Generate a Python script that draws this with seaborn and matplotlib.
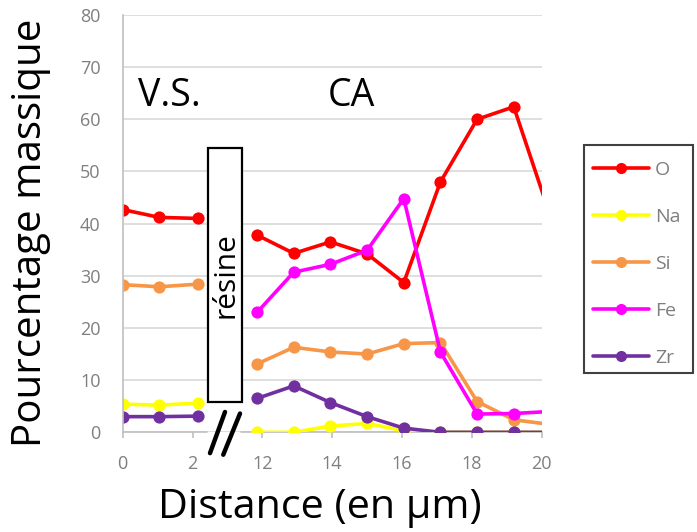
import numpy as np
import pandas as pd
import matplotlib
matplotlib.use("Agg")
import matplotlib.pyplot as plt
import matplotlib.patches as patches
from matplotlib.lines import Line2D
import seaborn as sns

# ---------------- data ----------------
elements = ["O", "Na", "Si", "Fe", "Zr"]
colors = ["#FF0000", "#FFFF00", "#F79646", "#FF00FF", "#7030A0"]

x_vs = [0.0, 1.05, 2.15]
x_ca = [11.85, 12.9, 13.95, 15.0, 16.05, 17.1, 18.15, 19.2, 20.25]

O_vs = [42.7, 41.2, 41.0]
O_ca = [37.8, 34.3, 36.5, 34.2, 28.7, 48.0, 60.0, 62.4, 41.4]
Na_vs = [5.4, 5.2, 5.6]
Na_ca = [0.0, 0.0, 1.2, 1.7, 0.3, 0.0, 0.0, 0.0, 0.0]
Si_vs = [28.3, 27.9, 28.4]
Si_ca = [13.1, 16.3, 15.4, 15.0, 17.0, 17.2, 5.9, 2.4, 1.5]
Fe_ca = [23.0, 30.7, 32.2, 34.9, 44.8, 15.4, 3.5, 3.6, 4.0]
Zr_vs = [3.0, 3.0, 3.1]
Zr_ca = [6.5, 8.9, 5.7, 3.0, 0.8, 0.0, 0.0, 0.0, 0.0]

xtick_labels = ["0", "2", "12", "14", "16", "18", "20"]
xtick_values = [0, 2, 12, 14, 16, 18, 20]
yticks = [0, 10, 20, 30, 40, 50, 60, 70, 80]

# axis break: the CA part is shifted left by this amount
SHIFT = 8.0
def pos(x):
    return x if x < 6 else x - SHIFT

series = {
    "O": (O_vs, O_ca),
    "Na": (Na_vs, Na_ca),
    "Si": (Si_vs, Si_ca),
    "Fe": (None, Fe_ca),
    "Zr": (Zr_vs, Zr_ca),
}
rows = []
for el in elements:
    vs, ca = series[el]
    if vs is not None:
        for x, v in zip(x_vs, vs):
            rows.append(dict(elem=el, seg="vs", p=pos(x), val=v))
    for x, v in zip(x_ca, ca):
        rows.append(dict(elem=el, seg="ca", p=pos(x), val=v))
df = pd.DataFrame(rows)

# ---------------- figure ----------------
sns.set_style("white")
plt.rcParams["font.family"] = ["Open Sans", "DejaVu Sans"]

W, H = 697, 532
fig = plt.figure(figsize=(W / 100, H / 100), dpi=100)
def fx(px): return px / W
def fy(py): return 1 - py / H

ax = fig.add_axes([fx(122.7), fy(432.3), (541.7 - 122.7) / W, (432.3 - 15) / H])

sns.lineplot(data=df, x="p", y="val", hue="elem", hue_order=elements,
             palette=dict(zip(elements, colors)), units="seg", estimator=None,
             sort=False, marker="o", markersize=8.8, markeredgewidth=0,
             linewidth=2.6, ax=ax, legend=False)

ax.set_xlim(0, pos(20))
ax.set_ylim(0, 80)
ax.set_yticks(yticks)
ax.set_xticks([pos(v) for v in xtick_values])
ax.set_xticklabels(xtick_labels)
ax.set_xlabel("")
ax.set_ylabel("")
ax.yaxis.grid(True, color="#d9d9d9", lw=1.2)
ax.xaxis.grid(False)
ax.set_axisbelow(True)
for s in ["top", "right", "bottom"]:
    ax.spines[s].set_visible(False)
ax.spines["left"].set_color("#bfbfbf")
ax.spines["left"].set_linewidth(1.2)
ax.tick_params(axis="y", length=0, pad=16, labelsize=13, labelcolor="#7f7f7f")
ax.tick_params(axis="x", length=4, width=1.2, color="#bfbfbf", direction="out",
               pad=12.5, labelsize=13, labelcolor="#7f7f7f", bottom=True)

# broken bottom axis line
ax.plot([0, 2.42], [0, 0], color="#bfbfbf", lw=1.2, clip_on=False, zorder=1)
ax.plot([3.4, pos(20)], [0, 0], color="#bfbfbf", lw=1.2, clip_on=False, zorder=1)

# break marks
ax.plot([2.50, 2.93], [-4.0, 3.9], color="black", lw=3.2, clip_on=False,
        solid_capstyle="round", zorder=6)
ax.plot([2.88, 3.36], [-4.3, 3.6], color="black", lw=3.2, clip_on=False,
        solid_capstyle="round", zorder=6)

# resine box
ax.add_patch(patches.Rectangle((2.44, 5.75), 0.99, 48.75, facecolor="white",
                               edgecolor="black", lw=1.6, zorder=5, clip_on=False))
renderer = fig.canvas.get_renderer()
def fit_text(t, target_px, horizontal=True):
    bb = t.get_window_extent(renderer)
    cur = bb.width if horizontal else bb.height
    t.set_fontsize(t.get_fontsize() * target_px / cur)

rt = ax.text(2.95, 30.1, "résine", rotation=90, ha="center", va="center",
             fontsize=16, color="black", zorder=7)
fit_text(rt, 86, horizontal=False)

# region labels
ax.text(1.35, 64.4, "V.S.", ha="center", va="center", fontsize=27, color="black")
ax.text(6.54, 64.4, "CA", ha="center", va="center", fontsize=27, color="black")

# axis titles (fit to reference widths)
yl = fig.text(fx(31), fy(233), "Pourcentage massique", rotation=90,
              ha="center", va="center", fontsize=28, color="black")
fit_text(yl, 427, horizontal=False)
xl = fig.text(fx(320), fy(508), "Distance (en µm)", ha="center", va="center",
              fontsize=28, color="black")
fit_text(xl, 324, horizontal=True)

# legend
handles = [Line2D([0], [0], color=c, lw=2.6, marker="o", markersize=8,
                  markeredgewidth=0) for c in colors]
leg = fig.legend(handles, elements, loc="upper left",
                 bbox_to_anchor=(fx(589), fy(157)), frameon=False,
                 fontsize=14, labelcolor="#7f7f7f", handlelength=2.9,
                 handletextpad=0.3, labelspacing=1.49, borderpad=0.2,
                 borderaxespad=0)
fig.add_artist(patches.Rectangle((fx(584), fy(373)), (693 - 584) / W,
                                 (373 - 145) / H, transform=fig.transFigure,
                                 fill=False, edgecolor="#404040", lw=1.5))

fig.savefig("out.png", dpi=100)
